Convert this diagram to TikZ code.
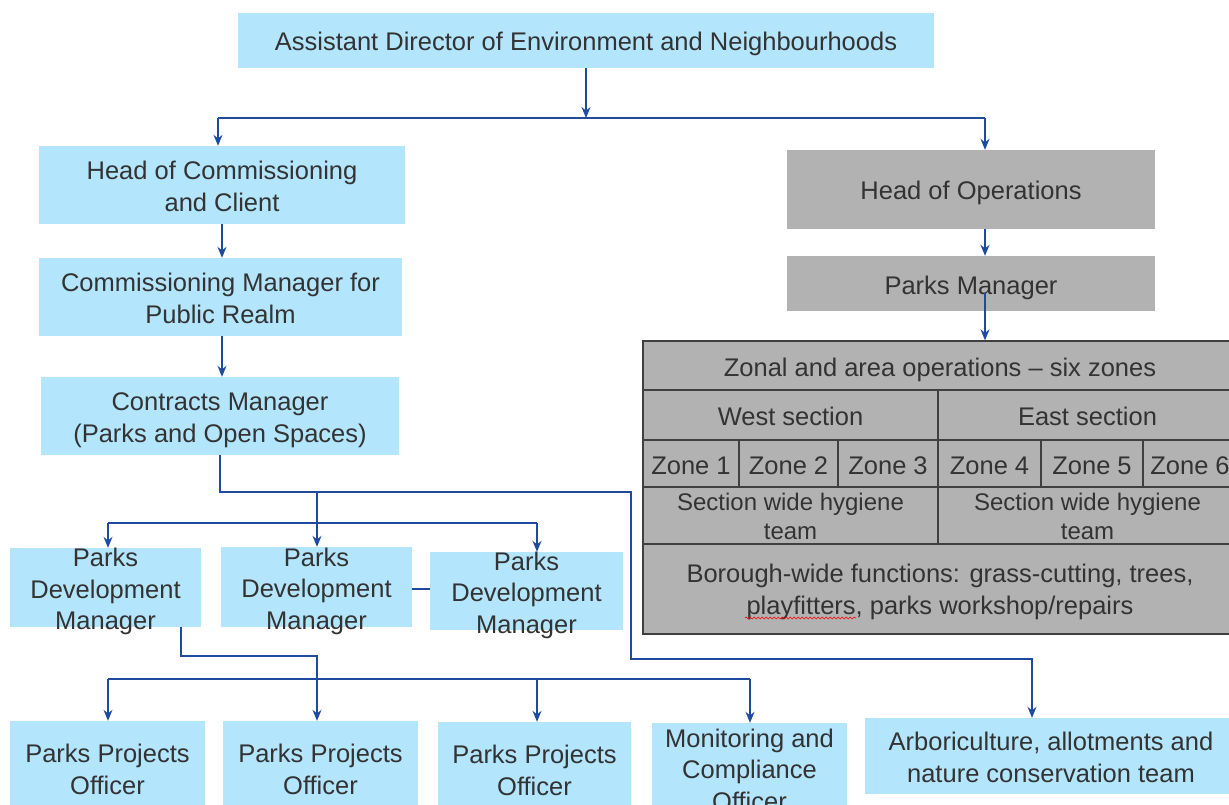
\documentclass[tikz,border=0pt]{standalone}
\usepackage{fontspec}
\setmainfont{Liberation Sans}
\usetikzlibrary{arrows.meta,positioning,decorations.pathmorphing}
\definecolor{boxblue}{RGB}{179,229,252}
\definecolor{opsgray}{RGB}{178,178,178}
\definecolor{gridgray}{RGB}{64,64,64}
\definecolor{inkgray}{RGB}{51,51,51}
\definecolor{linkblue}{RGB}{30,75,160}
\newcommand{\boxfont}{\fontsize{25.5}{31.5}\selectfont}
\newcommand{\teamfont}{\fontsize{24}{29}\selectfont}
\tikzset{
     onerow/.style   = {text height=21pt, text depth=0pt},
     tworow/.style   = {text height=52.5pt, text depth=0pt},
     threerow/.style = {text height=84pt, text depth=0pt},
     boxtext/.style  = {text=inkgray, font=\boxfont, align=center, inner sep=0pt, onerow},
     bluebox/.style  = {boxtext, fill=boxblue},
     graybox/.style  = {boxtext, fill=opsgray},
     cell/.style     = {graybox, draw=gridgray, line width=1.3pt},
     orgline/.style  = {linkblue, line width=1.4pt},
     orgarrow/.style = {orgline, ->, >={Stealth[length=11pt,width=9pt]}},
     boxsize/.style args={#1 by #2}{minimum width=#1pt, minimum height=#2pt},
    }

\begin{document}
\begin{tikzpicture}[x=1pt,y=-1pt]
        \useasboundingbox (0,0) rectangle (1229,805);
        \clip (0,0) rectangle (1229,805);
        % client side
        \node [bluebox, boxsize=696 by 55] (director) at (586,40.5) {Assistant Director of Environment and Neighbourhoods};
        \node [bluebox, tworow, boxsize=366 by 78] (hoc) at (222,185) {Head of Commissioning\\and Client};
        \node [bluebox, tworow, boxsize=363 by 78] (cm) at (220.5,297) {Commissioning Manager for\\Public Realm};
        \node [bluebox, tworow, boxsize=358 by 78] (contracts) at (220,416) {Contracts Manager\\(Parks and Open Spaces)};
        \node [bluebox, boxsize=191 by 79, label={[boxtext, threerow]center:Parks\\Development\\Manager}] (pdm1) at (105.5,587.5) {};
        \node [bluebox, boxsize=191 by 80, label={[boxtext, threerow]center:Parks\\Development\\Manager}] (pdm2) at (316.5,587) {};
        \node [bluebox, boxsize=193 by 78, label={[boxtext, threerow]center:Parks\\Development\\Manager}] (pdm3) at (526.5,591) {};
        \node [bluebox, tworow, boxsize=195 by 94] (ppo1) at (107.5,768) {Parks Projects\\Officer};
        \node [bluebox, tworow, boxsize=195 by 94] (ppo2) at (320.5,768) {Parks Projects\\Officer};
        \node [bluebox, tworow, boxsize=193 by 94] (ppo3) at (534.5,769) {Parks Projects\\Officer};
        \node [bluebox, threerow, text height=80pt, boxsize=195 by 94] (moc) at (749.5,770) {Monitoring and\\Compliance\\Officer};
        \node [bluebox, tworow, boxsize=372 by 76] (arbo) at (1051,756) {Arboriculture, allotments and\\nature conservation team};
        % operations side
        \node [graybox, boxsize=368 by 79] (hoo) at (971,189.5) {Head of Operations};
        \node [graybox, boxsize=368 by 55] (pm) at (971,283.5) {Parks Manager};
        \node [cell, boxsize=594 by 49] (zonal) at (940,365.5) {Zonal and area operations -- six zones};
        \node [cell, boxsize=295 by 50] (west) at (790.5,415) {West section};
        \node [cell, boxsize=299 by 50] (east) at (1087.5,415) {East section};
        \node [cell, boxsize=96 by 47] (zone1) at (691,463.5) {Zone 1};
        \node [cell, boxsize=99 by 47] (zone2) at (788.5,463.5) {Zone 2};
        \node [cell, boxsize=100 by 47] (zone3) at (888,463.5) {Zone 3};
        \node [cell, boxsize=103 by 47] (zone4) at (989.5,463.5) {Zone 4};
        \node [cell, boxsize=102 by 47] (zone5) at (1092,463.5) {Zone 5};
        \node [cell, boxsize=94 by 47] (zone6) at (1190,463.5) {Zone 6};
        \node [cell, boxsize=295 by 57, font=\teamfont, text height=48.5pt] (hygwest) at (790.5,515.5) {Section wide hygiene\\team};
        \node [cell, boxsize=299 by 57, font=\teamfont, text height=48.5pt] (hygeast) at (1087.5,515.5) {Section wide hygiene\\team};
        \node [cell, boxsize=594 by 90, text height=50pt] (borough) at (940,589) {Borough-wide functions: grass-cutting, trees,\\playfitters, parks workshop/repairs};
        \draw [red, line width=0.6pt, decorate, decoration={snake, amplitude=1pt, segment length=4pt}] (745,618) -- (856,618);
        % connectors
        \coordinate (topsplit) at (586,118);
        \coordinate (barL) at (218,118);
        \coordinate (barR) at (985,118);
        \coordinate (pmtail) at (985,293);
        \coordinate (turnA) at (631,492);
        \coordinate (turnB) at (1032,659);
        \coordinate (pdmsplit) at (317,492);
        \coordinate (pdmbarL) at (108,523);
        \coordinate (pdmbarR) at (537,523);
        \coordinate (pdmtail) at (181,627);
        \coordinate (ppojoin) at (317,656);
        \coordinate (ppobarL) at (108,679);
        \coordinate (ppobarM) at (537,679);
        \coordinate (ppobarR) at (750,679);
        \draw [orgline] (barL) -- (barR);
        \draw [orgline] (pdmbarL) -- (pdmbarR);
        \draw [orgline] (ppobarL) -- (ppobarR);
        \draw [orgline] (pdm2.east |- 0,589) -- (pdm3.west |- 0,589);
        \path [orgarrow]
        (director.south) edge (topsplit)
        (barL) edge (barL |- hoc.north)
        (barR) edge (barR |- hoo.north)
        (hoc.south) edge (hoc.south |- cm.north)
        (hoc.south |- cm.south) edge (hoc.south |- contracts.north)
        (hoo.south -| barR) edge (barR |- pm.north)
        (pmtail) edge (pmtail |- zonal.north)
        (pdmsplit) edge (pdmsplit |- pdm2.north)
        (pdmbarL) edge (pdmbarL |- pdm1.north)
        (pdmbarR) edge (pdmbarR |- pdm3.north)
        (ppobarL) edge (ppobarL |- ppo1.north)
        (ppobarM) edge (ppobarM |- ppo3.north)
        (ppobarR) edge (ppobarR |- moc.north);
        \draw [orgarrow] (contracts.south) |- (turnA) |- (turnB) -- (turnB |- arbo.north);
        \draw [orgarrow] (pdmtail) |- (ppojoin) -- (ppojoin |- ppo2.north);
    \end{tikzpicture}
\end{document}
